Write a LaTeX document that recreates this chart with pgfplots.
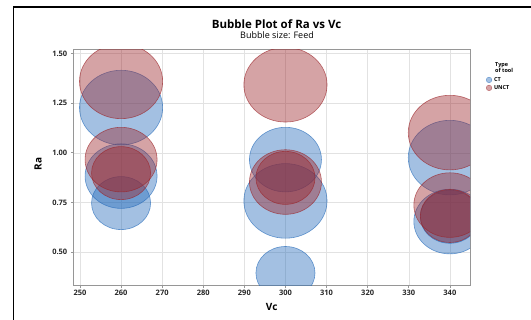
\documentclass[border=0pt]{standalone}
\usepackage{pgfplots}
\pgfplotsset{compat=1.18}
\usepackage{pgfplotstable}
\usepackage{fontspec}
\setmainfont{Open Sans}
\definecolor{ctfill}{RGB}{35,105,185}
\definecolor{unfill}{RGB}{155,35,40}
\definecolor{gridc}{RGB}{226,226,226}
\definecolor{axc}{RGB}{150,150,150}
\pgfdeclareplotmark{ell}{\pgfpathellipse{\pgfpointorigin}{\pgfqpoint{1.115\pgfplotmarksize}{0pt}}{\pgfqpoint{0pt}{\pgfplotmarksize}}\pgfusepathqfillstroke}

\pgfplotstableread{
vc ra r
260 1.228 37.3
260 0.883 32.3
260 0.747 26.5
300 0.966 32.3
300 0.758 37.3
300 0.395 26.5
340 0.976 37.3
340 0.654 32.3
340 0.678 26.5
}\ctdata

\pgfplotstableread{
vc ra r
260 1.360 37.3
260 0.966 32.3
260 0.898 26.5
300 1.343 37.3
300 0.853 32.3
300 0.874 26.5
340 1.102 37.3
340 0.737 32.3
340 0.682 26.5
}\undata

\begin{document}
\begin{tikzpicture}[x=1pt,y=1pt]
\useasboundingbox (-73.8,-34.7) rectangle (457.2,285.3);
\draw[line width=1.8pt] (-60.3,-40) -- (-60.3,278.5) -- (470,278.5);
\begin{axis}[at={(0pt,0pt)}, anchor=south west, scale only axis,
  width=396.2pt, height=235.5pt,
  xmin=248.5, xmax=344.9, ymin=0.333, ymax=1.519,
  xtick={250,260,...,340}, ytick={0.5,0.75,1,1.25,1.5},
  yticklabel style={/pgf/number format/.cd, fixed, fixed zerofill, precision=2},
  xticklabel style={/pgf/number format/1000 sep={}, yshift=1.5pt},
  /pgf/number format/assume math mode=true,
  tick label style={font=\fontsize{7.5}{8}\selectfont\bfseries, text=black!85},
  grid=major, major grid style={gridc, line width=0.5pt},
  axis line style={axc, line width=0.9pt},
  tick style={axc, line width=0.7pt}, tick align=outside, major tick length=3pt,
  xtick pos=bottom, ytick pos=left,
  clip marker paths=true,
  legend style={at={(1.04,0.893)}, anchor=north west, draw=none, fill=none,
    inner sep=0pt, font=\fontsize{5.5}{6}\selectfont\bfseries, row sep=-1.5pt},
  legend cell align=left,
]
\addplot[scatter, only marks, mark=ell,
  scatter/use mapped color={draw=ctfill, fill=ctfill},
  mark options={fill opacity=0.42, draw opacity=0.65, line width=0.6pt},
  visualization depends on={\thisrow{r} \as \rad},
  scatter/@pre marker code/.append style={/tikz/mark size=\rad},
  forget plot] table[x=vc, y=ra] {\ctdata};
\addplot[scatter, only marks, mark=ell,
  scatter/use mapped color={draw=unfill, fill=unfill},
  mark options={fill opacity=0.42, draw opacity=0.65, line width=0.6pt},
  visualization depends on={\thisrow{r} \as \rad},
  scatter/@pre marker code/.append style={/tikz/mark size=\rad},
  forget plot] table[x=vc, y=ra] {\undata};
\addlegendimage{legend image code/.code={\filldraw[fill=ctfill, fill opacity=0.42, draw=ctfill, draw opacity=0.65] (2.8pt,0pt) circle (2.8pt);}}
\addlegendentry{CT}
\addlegendimage{legend image code/.code={\filldraw[fill=unfill, fill opacity=0.42, draw=unfill, draw opacity=0.65] (2.8pt,0pt) circle (2.8pt);}}
\addlegendentry{UNCT}
\end{axis}
\node[font=\fontsize{11.5}{12}\selectfont\bfseries] at (202.7,261.6) {Bubble Plot of Ra vs Vc};
\node[font=\fontsize{9}{10}\selectfont] at (203.2,249.7) {Bubble size: Feed};
\node[font=\fontsize{10}{11}\selectfont\bfseries, rotate=90] at (-35.7,121.3) {Ra};
\node[font=\fontsize{10}{11}\selectfont\bfseries] at (197.9,-22) {Vc};
\node[font=\fontsize{5.5}{6}\selectfont\bfseries, anchor=west, inner sep=0pt] at (421.2,219.8) {Type};
\node[font=\fontsize{5.5}{6}\selectfont\bfseries, anchor=west, inner sep=0pt] at (421.2,214.8) {of tool};
\end{tikzpicture}
\end{document}
